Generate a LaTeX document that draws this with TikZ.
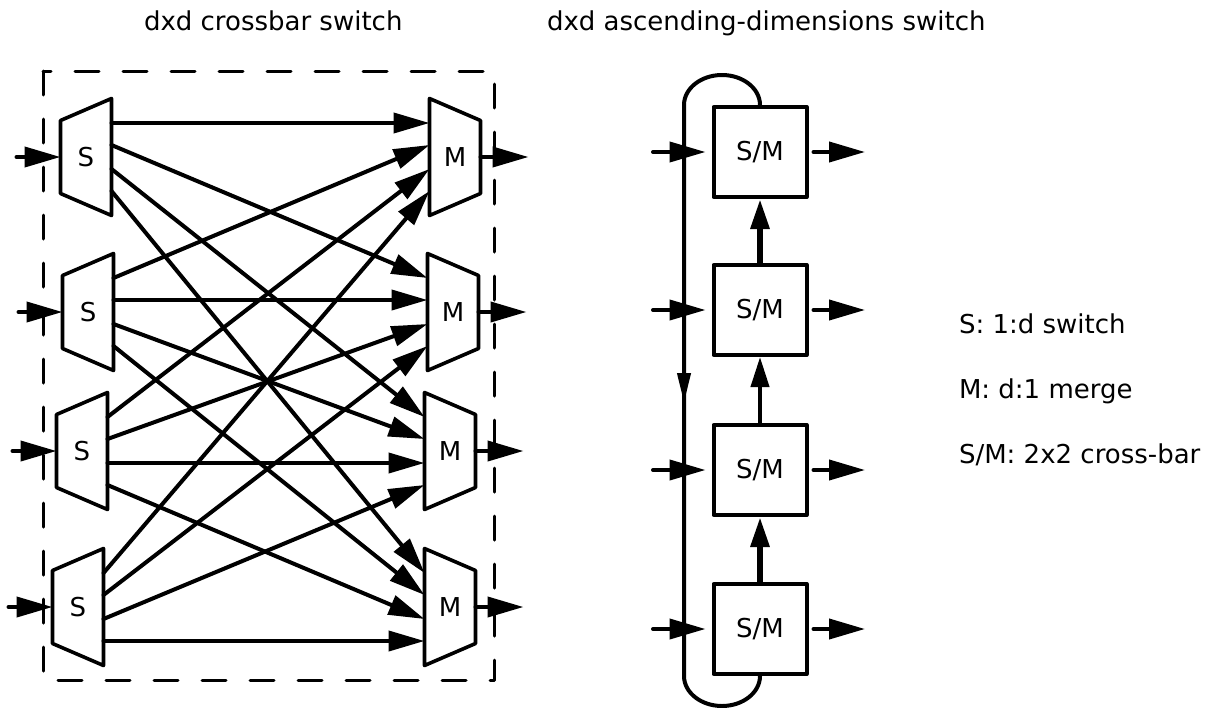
\documentclass[tikz,border=0pt]{standalone}
\usepackage{fontspec}
\setmainfont{DejaVu Sans}
\usetikzlibrary{arrows.meta,calc}
\begin{document}
\begin{tikzpicture}[x=0.5pt,y=-0.5pt,>={Triangle[length=18pt,width=10pt]}, font=\fontsize{13}{15}\selectfont, line width=2pt, line join=round, line cap=round,
	unit/.style={minimum width=23.5pt,minimum height=56.5pt,inner sep=0pt},
	smbox/.style={draw,minimum width=46.5pt,minimum height=45pt,inner sep=0pt},
	lbl/.style={anchor=base west,inner sep=0pt}]
	\useasboundingbox (0,0) rectangle (1225,707);
	\node[lbl] (t1) at (142,30) {dxd crossbar switch};
	\node[lbl] (t2) at (545,30) {dxd ascending-dimensions switch};
	\draw[dashed,dash pattern=on 12pt off 12pt,line width=1.5pt] (43,71) rectangle (494,680);
	% S and M units of the crossbar
	\foreach \i/\sx/\mx/\y in {1/86/455/157,2/88/453/312,3/82/450/451,4/78/450/607}{
		\node[unit] (s\i) at (\sx,\y) {S};
		\node[unit] (m\i) at (\mx,\y) {M};
		\draw[line width=1.8pt] (s\i.north east)--(s\i.south east)--($(s\i.south west)+(0,-22)$)--($(s\i.north west)+(0,22)$)--cycle;
		\draw[line width=1.8pt] (m\i.north west)--(m\i.south west)--($(m\i.south east)+(0,-22)$)--($(m\i.north east)+(0,22)$)--cycle;
		\coordinate (in\i) at ($(s\i.west)+(-44,0)$);
		\coordinate (out\i) at ($(m\i.east)+(48,0)$);
		\draw[->] (in\i)--(s\i.west);
		\draw[->] (m\i.east)--(out\i);
	}
	\foreach \i/\a in {1/-34,2/-12,3/12,4/34}
		\foreach \j/\b in {1/-34,2/-12,3/12,4/34}
			\draw[->] ($(s\i.east)+(0,\b)$)--($(m\j.west)+(0,\a)$);
	% ascending-dimensions switch
	\foreach \k/\y in {1/152,2/310,3/470,4/629}{
		\node[smbox] (sm\k) at (760,\y) {S/M};
		\coordinate (a\k) at (653,\y);
		\coordinate (b\k) at (865,\y);
		\draw[->] (a\k)--($(sm\k.west)+(-6,0)$);
		\draw[->] ($(sm\k.east)+(5,0)$)--(b\k);
	}
	\draw[->,>={Triangle[length=15pt,width=9pt]},line width=3pt] (sm2)--(sm1);
	\draw[->,>={Triangle[length=15pt,width=9pt]}] (sm3)--(sm2);
	\draw[->,>={Triangle[length=15pt,width=9pt]},line width=3pt] (sm4)--(sm3);
	\coordinate (lp) at (684,403);
	\coordinate (lq) at (684,385);
	\draw[-{Triangle[length=15pt,width=6.5pt]}] (sm1.north) arc[start angle=0,end angle=-180,x radius=38,y radius=30]--(lp);
	\draw (sm4.south) arc[start angle=0,end angle=180,x radius=38,y radius=30]--(lq);
	% legend
	\node[lbl] (k1) at (957,333) {S: 1:d switch};
	\node[lbl] (k2) at (957,398) {M: d:1 merge};
	\node[lbl] (k3) at (957,463) {S/M: 2x2 cross-bar};
\end{tikzpicture}
\end{document}
